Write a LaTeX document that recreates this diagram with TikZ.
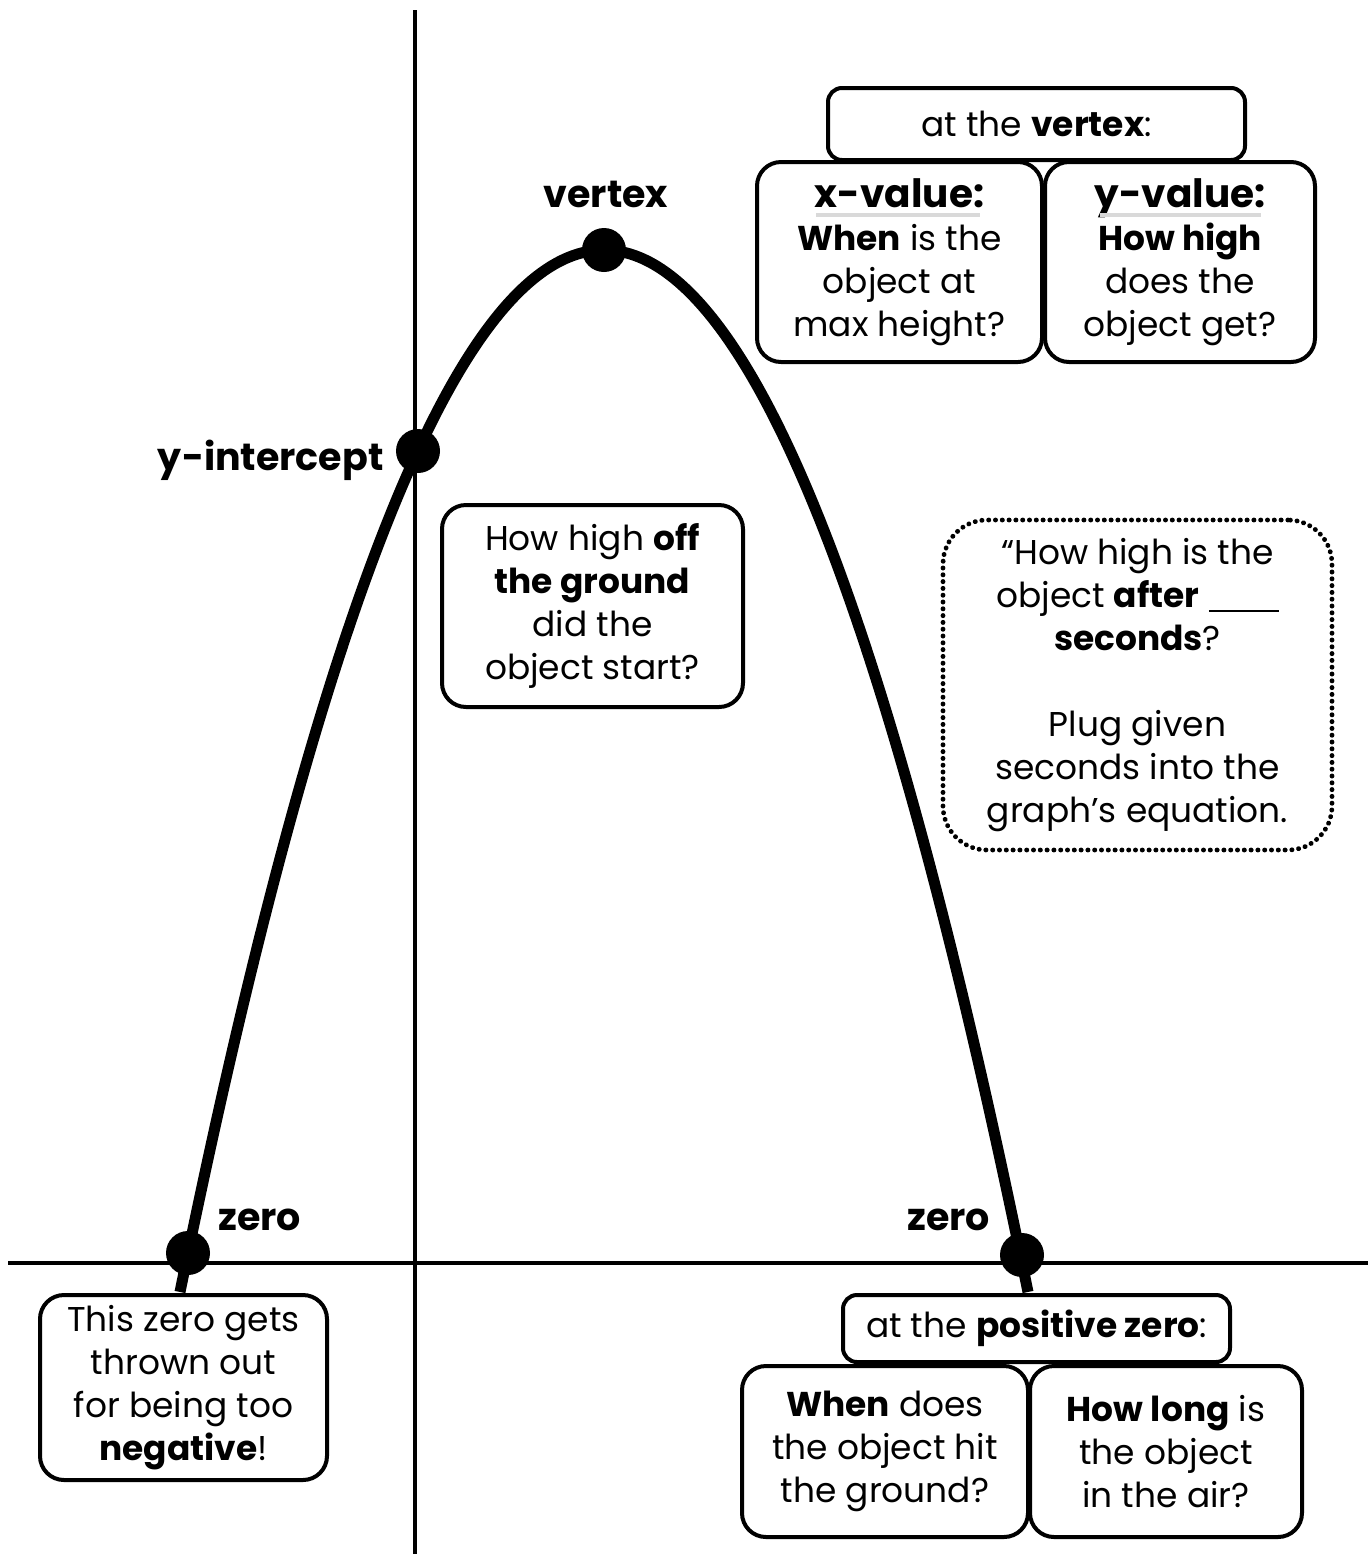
\documentclass[tikz,border=0pt]{standalone}
\usepackage{fontspec}
\setmainfont{Poppins}
\newcommand\hdfont{\fontsize{19.5}{21.5}\selectfont\bfseries}
\begin{document}
\begin{tikzpicture}[x=0.5pt,y=-0.5pt,
  txt/.style={font=\fontsize{17.2}{21.5}\selectfont, align=center, inner sep=0pt},
  box/.style={txt, draw, line width=2pt, fill=white, rounded corners=12pt},
  smallbox/.style={txt, draw, line width=2pt, fill=white, rounded corners=7pt},
  dotbox/.style={txt, draw, line width=2.4pt, fill=white, rounded corners=22pt, dash pattern=on 0.1pt off 3.3pt, line cap=round},
  lbl/.style={font=\fontsize{19}{21}\selectfont\bfseries, inner sep=0pt},
  dot/.style={circle, fill=black, minimum size=22pt, inner sep=0pt},
  axis/.style={line width=2pt},
  uline/.style={gray!30, line width=1.6pt}
]
\useasboundingbox (0,0) rectangle (1370,1554);
% axes
\coordinate (yt) at (415,10);
\coordinate (yb) at (415,1554);
\coordinate (xl) at (8,1263);
\coordinate (xr) at (1368,1263);
\draw[axis] (yt) -- (yb);
\draw[axis] (xl) -- (xr);
% parabola
\draw[line width=5.5pt] plot[domain=180:1028, samples=120, smooth] (\x, {250+57.96*((\x-604)/100)^2});
% dots
\node[dot] (vtx) at (604,250) {};
\node[dot] (yint) at (418,451) {};
\node[dot] (z1) at (188,1253) {};
\node[dot] (z2) at (1022,1255) {};
% labels
\node[lbl, anchor=base] (lv) at (606,207) {vertex};
\node[lbl, anchor=base east] (ly) at (384,470) {y-intercept};
\node[lbl, anchor=base west] (lz1) at (218,1230) {zero};
\node[lbl, anchor=base west] (lz2) at (907,1230) {zero};
% vertex boxes
\node[smallbox, minimum width=208.5pt, minimum height=36pt] (topv) at (1036.5,124) {at the \textbf{vertex}:};
\node[box, minimum width=142.5pt, minimum height=100pt] (xval) at (899.5,262)
  {{\hdfont x-value:}\\ \textbf{When} is the\\ object at\\ max height?};
\node[box, minimum width=135pt, minimum height=100pt] (yval) at (1180,262)
  {{\hdfont y-value:}\\ \textbf{How high}\\ does the\\ object get?};
\coordinate (u1a) at (816,215);
\coordinate (u1b) at (980,215);
\coordinate (u2a) at (1100,215);
\coordinate (u2b) at (1261,215);
\draw[uline] (u1a) -- (u1b);
\draw[uline] (u2a) -- (u2b);
% start box
\node[box, minimum width=150.5pt, minimum height=101pt] (start) at (592.5,606)
  {How high \textbf{off}\\ \textbf{the ground}\\ did the\\ object start?};
% dotted box
\node[dotbox, minimum width=194.5pt, minimum height=165pt] (after) at (1137.5,685)
  {“How high is the\\ object \textbf{after} \rule[-0.12em]{35pt}{0.06em}\\ \textbf{seconds}?\\[21.5pt] Plug given\\ seconds into the\\ graph’s equation.};
% negative zero box
\node[box, minimum width=143.5pt, minimum height=92.5pt] (neg) at (183.5,1387.5)
  {This zero gets\\ thrown out\\ for being too\\ \textbf{negative}!};
% positive zero boxes
\node[smallbox, minimum width=193.5pt, minimum height=33.5pt] (posz) at (1036.5,1328.5) {at the \textbf{positive zero}:};
\node[box, minimum width=143pt, minimum height=85.5pt] (when) at (885,1451.5)
  {\textbf{When} does\\ the object hit\\ the ground?};
\node[box, minimum width=136pt, minimum height=85.5pt] (long) at (1166,1451.5)
  {\textbf{How long} is\\ the object\\ in the air?};
\end{tikzpicture}
\end{document}
